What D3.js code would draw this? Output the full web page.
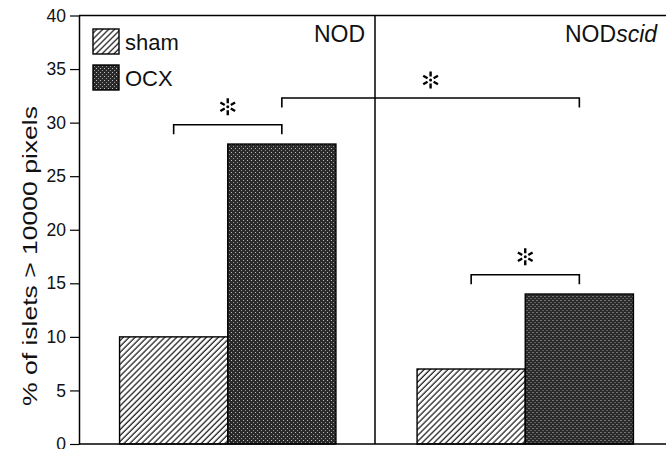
<!DOCTYPE html>
<html>
<head>
<meta charset="utf-8">
<script src="https://cdn.jsdelivr.net/npm/d3@7"></script>
<style>
  html, body { margin: 0; padding: 0; background: #fff; }
  svg { display: block; font-family: "Liberation Sans", Arial, Helvetica, sans-serif; }
</style>
</head>
<body>
<svg id="chart" width="666" height="449"></svg>
<script>
// Strains (panels) and treatment groups
const strains = ["NOD", "NODscid"];
const treatments = ["sham", "OCX"];

// % of islets larger than 10000 pixels, per strain, in treatment order
const shamValues = [10, 7];
const ocxValues = [28, 14];

// y-axis ticks
const yTicks = [0, 5, 10, 15, 20, 25, 30, 35, 40];

// significance brackets: [strainA, treatmentA, strainB, treatmentB, level]
const brackets = [
  ["NOD", "sham", "NOD", "OCX", 29.8],
  ["NOD", "OCX", "NODscid", "OCX", 32.3],
  ["NODscid", "sham", "NODscid", "OCX", 15.8]
];

const rows = strains.map((s, i) => ({
  strain: s,
  values: [
    { treatment: "sham", value: shamValues[i] },
    { treatment: "OCX", value: ocxValues[i] }
  ]
}));

const svg = d3.select("#chart");
const plotLeft = 79, plotRight = 674, plotTop = 15.5, plotBottom = 444;

const x0 = d3.scaleBand().domain(strains).range([plotLeft, plotRight]).paddingInner(0).paddingOuter(0);
const x1 = d3.scaleBand().domain(treatments).range([0, x0.bandwidth()]).paddingInner(0).paddingOuter(0.375);
const y = d3.scaleLinear().domain([0, 40]).range([plotBottom, plotTop]);

// fill patterns
const defs = svg.append("defs");
const hatch = defs.append("pattern")
  .attr("id", "hatch").attr("patternUnits", "userSpaceOnUse")
  .attr("width", 4.2).attr("height", 4.2)
  .attr("patternTransform", "rotate(45)");
hatch.append("rect").attr("width", 4.2).attr("height", 4.2).attr("fill", "#fff");
hatch.append("line").attr("x1", 1).attr("y1", 0).attr("x2", 1).attr("y2", 4.2)
  .attr("stroke", "#111").attr("stroke-width", 1.2);

const stipple = defs.append("pattern")
  .attr("id", "stipple").attr("patternUnits", "userSpaceOnUse")
  .attr("width", 4).attr("height", 4);
stipple.append("rect").attr("width", 4).attr("height", 4).attr("fill", "#2a2a2a");
stipple.append("rect").attr("x", 0).attr("y", 0).attr("width", 1).attr("height", 1).attr("fill", "#fff").attr("opacity", 0.7);
stipple.append("rect").attr("x", 2).attr("y", 2).attr("width", 1).attr("height", 1).attr("fill", "#fff").attr("opacity", 0.5);

const fillFor = t => t === "sham" ? "url(#hatch)" : "url(#stipple)";

// bars
const groups = svg.append("g").selectAll("g").data(rows).join("g")
  .attr("transform", d => `translate(${x0(d.strain)},0)`);
groups.selectAll("rect").data(d => d.values).join("rect")
  .attr("x", d => x1(d.treatment))
  .attr("y", d => y(d.value))
  .attr("width", x1.bandwidth())
  .attr("height", d => y(0) - y(d.value))
  .attr("fill", d => fillFor(d.treatment))
  .attr("stroke", "#000")
  .attr("stroke-width", 1.4);

// y axis
const yAxis = d3.axisLeft(y).tickValues(yTicks).tickSize(9).tickSizeOuter(0).tickPadding(4);
const ag = svg.append("g").attr("transform", `translate(${plotLeft},0)`).call(yAxis);
ag.select(".domain").attr("stroke", "#000").attr("stroke-width", 1.5);
ag.selectAll(".tick line").attr("stroke", "#000").attr("stroke-width", 1.2);
ag.selectAll(".tick text").attr("fill", "#111").style("font-size", "17.5px")
  .style("font-family", "'Liberation Sans', Arial, sans-serif");

// frame: top edge, baseline, panel divider
const frame = svg.append("g").attr("stroke", "#000").attr("stroke-width", 1.5);
frame.append("line").attr("x1", plotLeft).attr("x2", 666).attr("y1", y(40)).attr("y2", y(40));
frame.append("line").attr("x1", plotLeft).attr("x2", 666).attr("y1", y(0)).attr("y2", y(0));
frame.append("line").attr("x1", x0("NODscid") - 1.5).attr("x2", x0("NODscid") - 1.5).attr("y1", y(40)).attr("y2", y(0));

// y-axis title
svg.append("text")
  .attr("transform", `translate(37,256) rotate(-90)`)
  .attr("text-anchor", "middle")
  .attr("textLength", 300).attr("lengthAdjust", "spacingAndGlyphs")
  .style("font-size", "21px").attr("fill", "#111")
  .text("% of islets > 10000 pixels");

// panel titles
svg.append("text").attr("x", 365).attr("y", 42)
  .attr("text-anchor", "end").style("font-size", "23px").attr("fill", "#111")
  .text("NOD");
const t2 = svg.append("text").attr("x", 565).attr("y", 42)
  .style("font-size", "23px").attr("fill", "#111");
t2.append("tspan").text("NOD");
t2.append("tspan").style("font-style", "italic").text("scid");

// legend
const legend = svg.append("g");
treatments.forEach((t, i) => {
  const gy = 29 + i * 36;
  legend.append("rect").attr("x", 93).attr("y", gy).attr("width", 26).attr("height", 25)
    .attr("fill", fillFor(t)).attr("stroke", "#000").attr("stroke-width", 1.4);
  legend.append("text").attr("x", 125).attr("y", gy + 21)
    .style("font-size", "22px").attr("fill", "#111").text(t);
});

// significance brackets with asterisks
const cx = (s, t) => x0(s) + x1(t) + x1.bandwidth() / 2;
const star = d3.symbol().type({
  draw(ctx) {
    for (let k = 0; k < 6; k++) {
      const a = Math.PI / 2 + k * Math.PI / 3;
      ctx.moveTo(Math.cos(a) * 3.5, Math.sin(a) * 3.5);
      ctx.lineTo(Math.cos(a) * 8.5, Math.sin(a) * 8.5);
    }
  }
});
const bg = svg.append("g");
brackets.forEach(([sa, ta, sb, tb, lvl]) => {
  const xa = cx(sa, ta), xb = cx(sb, tb), yy = y(lvl);
  bg.append("path")
    .attr("d", `M${xa},${yy + 9.5}V${yy}H${xb}V${yy + 9.5}`)
    .attr("fill", "none").attr("stroke", "#000").attr("stroke-width", 1.6);
  const sx = (xa + xb) / 2, sy = yy - 18;
  bg.append("path").attr("transform", `translate(${sx},${sy})`)
    .attr("d", star()).attr("stroke", "#000").attr("stroke-width", 2.4).attr("fill", "none");
  bg.append("circle").attr("cx", sx).attr("cy", sy).attr("r", 1.5).attr("fill", "#000");
});
</script>
</body>
</html>
